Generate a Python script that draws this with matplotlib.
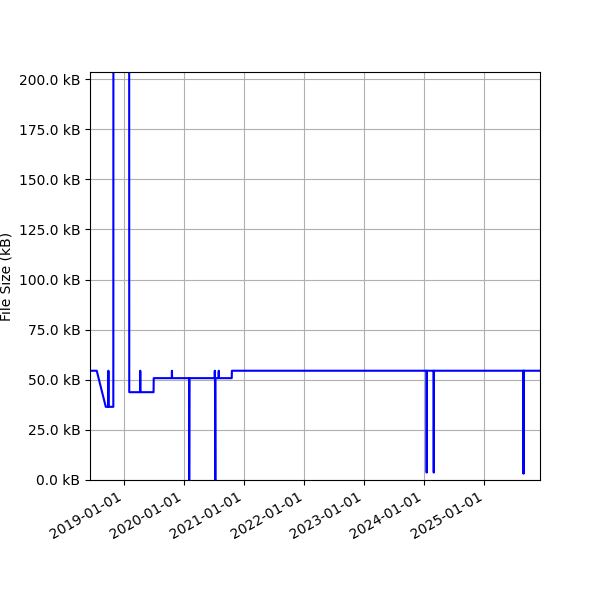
import pandas as pd
import matplotlib
matplotlib.use('Agg')
import matplotlib.pyplot as plt
import matplotlib.dates as mdates
from matplotlib.ticker import FuncFormatter

# commit dates and file size in kB
dates = ['2018-06-06', '2018-07-17', '2018-09-10', '2018-09-25', '2018-09-26', '2018-09-27',
         '2018-10-26', '2018-10-27', '2019-01-30', '2019-01-31', '2019-04-07', '2019-04-08',
         '2019-04-09', '2019-06-28', '2019-06-29', '2019-10-17', '2019-10-18', '2019-10-19',
         '2020-01-30', '2020-01-31', '2020-02-02', '2020-07-04', '2020-07-05', '2020-07-06',
         '2020-07-08', '2020-07-09', '2020-07-28', '2020-07-29', '2020-07-30', '2020-10-16',
         '2020-10-17', '2024-01-15', '2024-01-16', '2024-01-17', '2024-02-27', '2024-02-28',
         '2024-02-29', '2025-08-26', '2025-08-27', '2025-08-28', '2025-08-29', '2025-08-30',
         '2025-12-06']
size_kb = [54.5, 54.5, 36.5, 36.5, 54.5, 36.5,
           36.5, 420.0, 420.0, 43.8, 43.8, 54.5,
           43.8, 43.8, 50.8, 50.8, 54.5, 50.8,
           50.8, 0.0, 50.8, 50.8, 54.5, 50.8,
           0.0, 50.8, 50.8, 54.5, 50.8, 50.8,
           54.5, 54.5, 3.7, 54.5, 54.5, 3.7,
           54.5, 54.5, 3.3, 54.5, 3.3, 54.5,
           54.5]

t = pd.to_datetime(dates)

fig, ax = plt.subplots(figsize=(6, 6), dpi=100)
ax.plot(t, size_kb, '-', color='blue', linewidth=1.5)
ax.grid(True)
ax.set_ylabel('File Size (kB)')
ax.yaxis.set_major_formatter(FuncFormatter(lambda v, p: '%.1f kB' % v))
ax.xaxis.set_major_locator(mdates.YearLocator())
ax.xaxis.set_major_formatter(mdates.DateFormatter('%Y-%m-%d'))
ax.set_xlim(t[0], t[-1])
ax.set_ylim(0, 203.5)
fig.autofmt_xdate()
plt.subplots_adjust(left=0.15, right=0.9, top=0.88, bottom=0.2)

plt.savefig('out.png')
